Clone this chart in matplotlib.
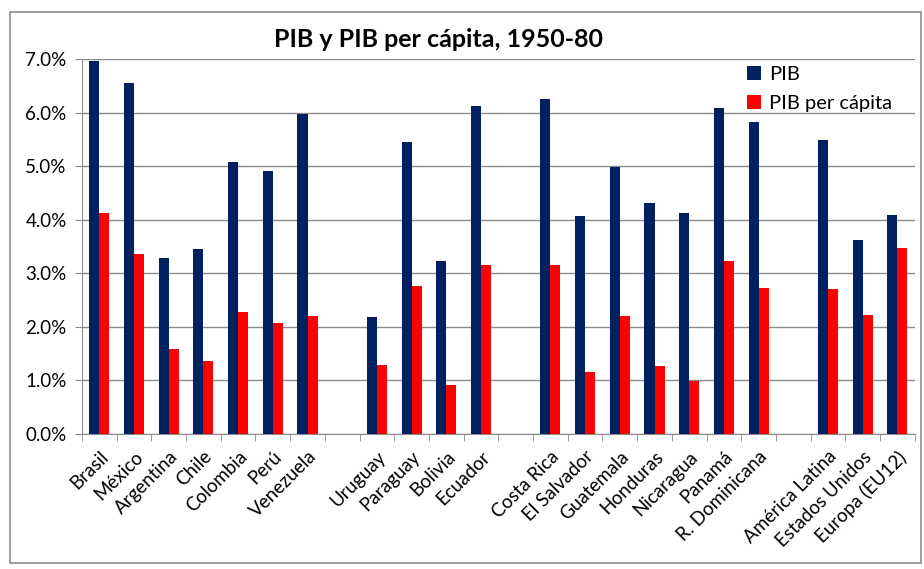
import matplotlib
matplotlib.use('Agg')
from matplotlib import pyplot as plt
from matplotlib.patches import Rectangle
from matplotlib.ticker import PercentFormatter, MultipleLocator
import numpy as np

paises = [
    'Brasil', 'México', 'Argentina', 'Chile', 'Colombia', 'Perú', 'Venezuela', '',
    'Uruguay', 'Paraguay', 'Bolivia', 'Ecuador', '',
    'Costa Rica', 'El Salvador', 'Guatemala', 'Honduras', 'Nicaragua', 'Panamá',
    'R. Dominicana', '',
    'América Latina', 'Estados Unidos', 'Europa (EU12)',
]
nan = float('nan')
pib = [6.97, 6.56, 3.28, 3.45, 5.08, 4.90, 5.97, nan,
       2.19, 5.45, 3.23, 6.13, nan,
       6.25, 4.07, 4.98, 4.32, 4.12, 6.08, 5.83, nan,
       5.48, 3.62, 4.08]
pib_pc = [4.12, 3.36, 1.59, 1.37, 2.27, 2.07, 2.20, nan,
          1.29, 2.76, 0.92, 3.15, nan,
          3.15, 1.15, 2.20, 1.26, 0.98, 3.23, 2.72, nan,
          2.70, 2.23, 3.48]

plt.rcParams['font.family'] = ['Lato', 'DejaVu Sans']

fig = plt.figure(figsize=(9.24, 5.69), dpi=100)
ax = fig.add_axes([0.0887, 0.2373, 0.9013, 0.659])

x = np.arange(len(paises))
w = 0.29
ax.bar(x - w / 2, pib, w, color='#002060', label='PIB', zorder=3)
ax.bar(x + w / 2, pib_pc, w, color='#FF0000', label='PIB per cápita', zorder=3)

ax.set_xlim(-0.5, len(paises) - 0.5)
ax.set_ylim(0, 7)
ax.yaxis.set_major_locator(MultipleLocator(1))
ax.yaxis.set_major_formatter(PercentFormatter(decimals=1))
ax.grid(axis='y', color='#8c8c8c', linewidth=1, zorder=0)

ax.set_xticks(x)
ax.set_xticklabels(paises, rotation=45, ha='right', rotation_mode='anchor',
                   fontsize=13.5)
ax.set_xticks(np.arange(len(paises) + 1) - 0.5, minor=True)
ax.tick_params(axis='x', which='major', length=0, pad=10)
ax.tick_params(axis='x', which='minor', length=5, color='#8c8c8c', direction='out')
ax.tick_params(axis='y', length=5, color='#8c8c8c', labelsize=13.5, pad=6)

for s in ['top', 'right']:
    ax.spines[s].set_visible(False)
for s in ['left', 'bottom']:
    ax.spines[s].set_color('#8c8c8c')

ax.legend(loc='upper right', bbox_to_anchor=(0.995, 1.03), frameon=False,
          fontsize=14.5, handlelength=0.7, handleheight=0.7, handletextpad=0.4,
          labelspacing=0.6)

fig.text(0.475, 0.93, 'PIB y PIB per cápita, 1950-80', ha='center', va='center',
         fontsize=18, fontweight='bold')

fig.patches.append(Rectangle((10 / 924, 6 / 569), 911 / 924, 551 / 569,
                             transform=fig.transFigure, fill=False,
                             edgecolor='#8c8c8c', linewidth=1.2))

fig.savefig('out.png', dpi=100)
